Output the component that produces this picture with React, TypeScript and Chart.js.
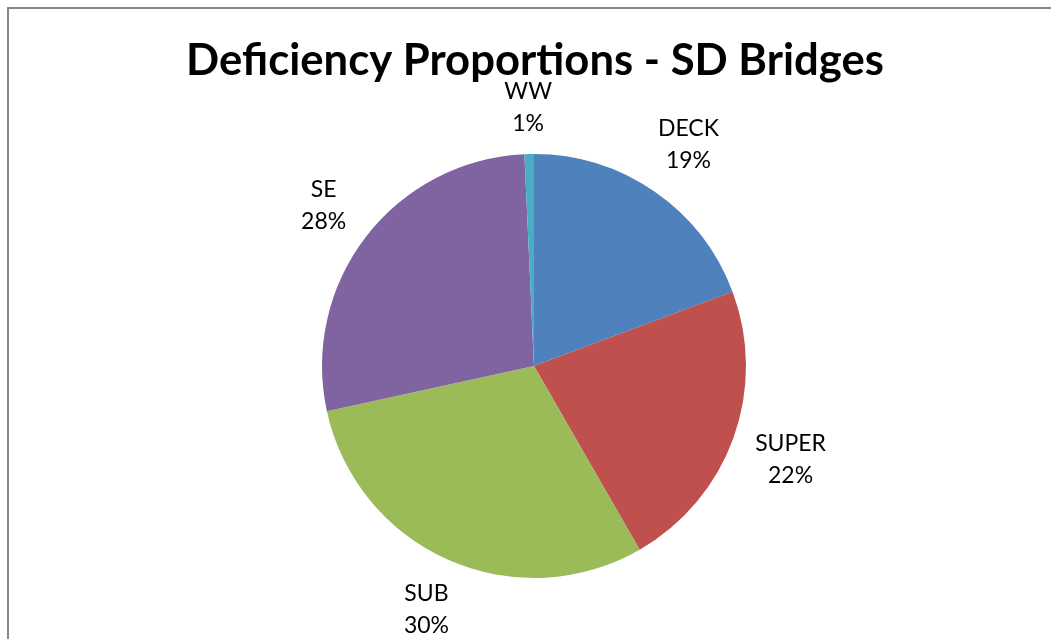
import React, { useEffect, useRef } from "react";
import { Chart, registerables } from "chart.js";

Chart.register(...registerables);

const TITLE = "Deficiency Proportions - SD Bridges";
const categories = ["DECK", "SUPER", "SUB", "SE", "WW"];
const values = [19.3, 22.4, 29.9, 27.7, 0.72];
const colors = ["#4F81BD", "#C0504D", "#9BBB59", "#8064A2", "#4BACC6"];

const FONT = "Lato, 'Noto Sans', sans-serif";

const labelPlugin = {
  id: "excelLabels",
  afterDraw(chart: any) {
    const ctx = chart.ctx as CanvasRenderingContext2D;
    ctx.save();
    // Title
    let size = 34;
    ctx.font = `bold ${size}px ${FONT}`;
    const w = ctx.measureText(TITLE).width;
    size = (size * 698) / w;
    ctx.font = `bold ${size}px ${FONT}`;
    ctx.fillStyle = "#000";
    ctx.textAlign = "center";
    ctx.textBaseline = "alphabetic";
    ctx.fillText(TITLE, 535, 75);

    // Data labels (outside, best-fit style)
    const meta = chart.getDatasetMeta(0);
    const data = chart.data.datasets[0].data as number[];
    const total = data.reduce((a, b) => a + b, 0);
    const fs = 23;
    const lh = 32;
    const gap = 18;
    ctx.font = `${fs}px ${FONT}`;
    meta.data.forEach((arc: any, i: number) => {
      const p = arc.getProps(["x", "y", "startAngle", "endAngle", "outerRadius"], true);
      const mid = (p.startAngle + p.endAngle) / 2;
      const ux = Math.cos(mid);
      const uy = Math.sin(mid);
      const l1 = chart.data.labels[i];
      const l2 = Math.round((data[i] / total) * 100) + "%";
      const hw = Math.max(ctx.measureText(l1).width, ctx.measureText(l2).width) / 2;
      const hh = 29;
      const target = p.outerRadius + gap;
      // find distance so the box's nearest point to the centre is at target
      let lo = 0;
      let hi = p.outerRadius * 3;
      for (let k = 0; k < 40; k++) {
        const d = (lo + hi) / 2;
        const bx = ux * d;
        const by = uy * d;
        const qx = Math.min(Math.max(0, bx - hw), bx + hw);
        const qy = Math.min(Math.max(0, by - hh), by + hh);
        const dist = Math.hypot(qx, qy);
        if (dist < target) lo = d;
        else hi = d;
      }
      const d = (lo + hi) / 2;
      const cx = p.x + ux * d;
      const cy = p.y + uy * d;
      ctx.textAlign = "center";
      ctx.textBaseline = "alphabetic";
      ctx.fillStyle = "#000";
      const cap = fs * 0.72;
      const blockH = cap + lh;
      const top = cy - blockH / 2;
      ctx.fillText(l1, cx, top + cap);
      ctx.fillText(l2, cx, top + cap + lh);
    });
    ctx.restore();
  },
};

export default function App() {
  const ref = useRef<HTMLCanvasElement>(null);
  useEffect(() => {
    if (!ref.current) return;
    const chart = new Chart(ref.current, {
      type: "pie",
      data: {
        labels: categories,
        datasets: [
          {
            data: values,
            backgroundColor: colors,
            borderWidth: 0,
          },
        ],
      },
      options: {
        animation: false,
        responsive: false,
        maintainAspectRatio: false,
        layout: { padding: { left: 322, right: 305, top: 154, bottom: 61 } },
        plugins: {
          legend: { display: false },
          tooltip: { enabled: false },
          title: { display: false },
        },
      },
      plugins: [labelPlugin],
    });
    return () => chart.destroy();
  }, []);
  return (
    <div
      style={{
        position: "fixed",
        left: 0,
        top: 0,
        width: 1051,
        height: 639,
        background: "#fff",
        overflow: "hidden",
      }}
    >
      <div
        style={{
          position: "absolute",
          left: 7,
          top: 7,
          width: 1100,
          height: 700,
          borderLeft: "2px solid #868686",
          borderTop: "2px solid #868686",
          boxSizing: "border-box",
        }}
      />
      <canvas
        ref={ref}
        width={1051}
        height={639}
        style={{ position: "absolute", left: 0, top: 0, width: 1051, height: 639 }}
      />
    </div>
  );
}
